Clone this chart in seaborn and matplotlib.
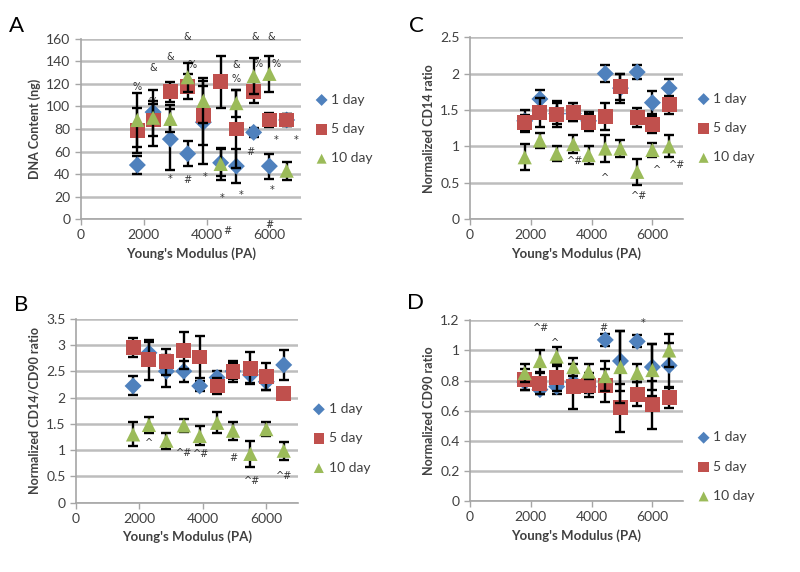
import matplotlib
matplotlib.use('Agg')
import matplotlib.pyplot as plt
import matplotlib.ticker as mticker
import seaborn as sns
import pandas as pd

# Young's modulus of each gel (PA)
modulus = [1800, 2300, 2850, 3400, 3900, 4450, 4950, 5500, 6000, 6550]
days = ['1 day', '5 day', '10 day']

# A: DNA content (ng)
dna_1 = [48, 95, 71, 58, 86, 50, 47, 77, 47, 88]
dna_1_err = [8, 10, 27, 11, 37, 12, 15, 4, 11, 5]
dna_5 = [79, 88, 113, 118, 92, 122, 80, 113, 88, 88]
dna_5_err = [20, 14, 9, 11, 26, 23, 35, 10, 6, 5]
dna_10 = [88, 90, 89, 126, 105, 49, 103, 127, 129, 43]
dna_10_err = [24, 25, 12, 13, 20, 14, 12, 16, 16, 8]
dna_notes = [(1800, 117, '%'), (2300, 104, '%'), (2300, 134, '&'), (2850, 144, '&'),
             (3400, 162, '&'), (3550, 137, '%'), (4950, 137, '&'), (4950, 124, '%'),
             (5550, 162, '&'), (5650, 138, '%'), (6050, 162, '&'), (6200, 138, '%'),
             (2850, 36, '*'), (3400, 35, '#'), (3950, 37, '*'), (4500, 19, '*'),
             (5100, 21, '*'), (5400, 60, '#'), (6100, 26, '*'), (6200, 70, '*'),
             (6850, 70, '*'), (4650, -11, '#'), (6000, -5, '#')]

# C: normalized CD14 ratio
cd14_1 = [1.35, 1.65, 1.45, 1.45, 1.35, 2.0, 1.8, 2.02, 1.6, 1.8]
cd14_1_err = [0.15, 0.12, 0.15, 0.1, 0.12, 0.12, 0.2, 0.1, 0.16, 0.12]
cd14_5 = [1.33, 1.47, 1.44, 1.47, 1.33, 1.41, 1.82, 1.39, 1.3, 1.57]
cd14_5_err = [0.1, 0.2, 0.18, 0.12, 0.12, 0.18, 0.18, 0.13, 0.12, 0.12]
cd14_10 = [0.85, 1.08, 0.9, 1.03, 0.88, 0.97, 0.97, 0.65, 0.95, 1.0]
cd14_10_err = [0.18, 0.1, 0.1, 0.12, 0.12, 0.18, 0.12, 0.18, 0.1, 0.15]
cd14_notes = [(3450, 0.8, '^#'), (4450, 0.57, '^'), (5550, 0.32, '^#'),
              (6150, 0.68, '^'), (6800, 0.75, '^#')]

# B: normalized CD14/CD90 ratio
ratio_1 = [2.22, 2.85, 2.5, 2.5, 2.22, 2.38, 2.5, 2.43, 2.3, 2.62]
ratio_1_err = [0.18, 0.2, 0.3, 0.2, 0.1, 0.12, 0.15, 0.15, 0.15, 0.28]
ratio_5 = [2.95, 2.72, 2.68, 2.9, 2.77, 2.22, 2.5, 2.56, 2.4, 2.08]
ratio_5_err = [0.18, 0.38, 0.25, 0.35, 0.4, 0.15, 0.2, 0.3, 0.25, 0.1]
ratio_10 = [1.3, 1.48, 1.18, 1.47, 1.27, 1.52, 1.37, 0.93, 1.4, 0.99]
ratio_10_err = [0.23, 0.15, 0.15, 0.12, 0.18, 0.2, 0.17, 0.25, 0.14, 0.17]
ratio_notes = [(2300, 1.13, '^'), (3400, 0.95, '^#'), (3950, 0.92, '^#'),
               (4950, 0.85, '#'), (5550, 0.42, '^#'), (6550, 0.5, '^#')]

# D: normalized CD90 ratio
cd90_1 = [0.79, 0.74, 0.76, 0.79, 0.76, 1.07, 0.93, 1.06, 0.89, 0.9]
cd90_1_err = [0.05, 0.03, 0.05, 0.06, 0.04, 0.04, 0.2, 0.04, 0.15, 0.15]
cd90_5 = [0.81, 0.78, 0.82, 0.76, 0.77, 0.77, 0.62, 0.71, 0.64, 0.69]
cd90_5_err = [0.07, 0.07, 0.09, 0.15, 0.08, 0.11, 0.16, 0.08, 0.16, 0.07]
cd90_10 = [0.85, 0.93, 0.96, 0.89, 0.86, 0.83, 0.89, 0.85, 0.87, 1.0]
cd90_10_err = [0.06, 0.07, 0.06, 0.06, 0.05, 0.1, 0.24, 0.06, 0.17, 0.11]
cd90_notes = [(2350, 1.15, '^#'), (2800, 1.05, '^'), (4400, 1.15, '#'), (5700, 1.18, '*')]

colors = {'1 day': '#4F81BD', '5 day': '#C0504D', '10 day': '#9BBB59'}
markers = {'1 day': 'D', '5 day': 's', '10 day': '^'}
sizes = {'1 day': 75, '5 day': 115, '10 day': 105}

sns.set_theme(style='white')
plt.rcParams['font.family'] = ['Lato', 'DejaVu Sans']

fig = plt.figure(figsize=(8, 5.72), dpi=100, facecolor='white')


def panel(rect, series, errs, notes, ymax, ystep, ylabel, letter, letter_xy, leg_y):
    ax = fig.add_axes(rect)
    df = pd.DataFrame({
        'modulus': modulus * 3,
        'value': series[0] + series[1] + series[2],
        'err': errs[0] + errs[1] + errs[2],
        'day': [d for d in days for _ in modulus],
    })
    for i, d in enumerate(days):
        sub = df[df['day'] == d]
        ax.errorbar(sub['modulus'], sub['value'], yerr=sub['err'], fmt='none',
                    ecolor='black', elinewidth=1.7, capsize=3.5, capthick=1.7,
                    zorder=3 + 2 * i)
        sns.scatterplot(data=sub, x='modulus', y='value', marker=markers[d],
                        color=colors[d], s=sizes[d], edgecolor='none',
                        label=d, ax=ax, zorder=4 + 2 * i)
    for x, y, t in notes:
        ax.text(x, y, t, fontsize=7, color='#333333', ha='center', va='center',
                family='DejaVu Sans', clip_on=False)

    ax.set_xlim(0, 7000)
    ax.set_ylim(0, ymax)
    ax.set_xticks([0, 2000, 4000, 6000])
    ax.xaxis.set_minor_locator(mticker.MultipleLocator(1000))
    ax.yaxis.set_major_locator(mticker.MultipleLocator(ystep))
    ax.yaxis.set_major_formatter(mticker.FuncFormatter(lambda v, p: f'{v:g}'))
    ax.grid(axis='y', color='#BDBDBD', linewidth=1.8)
    ax.grid(axis='x', visible=False)
    ax.set_axisbelow(True)
    for s in ['top', 'right']:
        ax.spines[s].set_visible(False)
    for s in ['left', 'bottom']:
        ax.spines[s].set_color('#A6A6A6')
        ax.spines[s].set_linewidth(1.2)
    ax.tick_params(axis='both', which='both', direction='out', length=4,
                   color='#A6A6A6', width=1.0, labelsize=10, labelcolor='#404040',
                   left=True, bottom=True)
    ax.tick_params(axis='x', which='minor', length=0)
    ax.set_xlabel("Young's Modulus (PA)", fontsize=9.5, fontweight='bold', color='#404040')
    ax.set_ylabel(ylabel, fontsize=9, fontweight='bold', color='#404040', labelpad=4)
    ax.legend(loc='center left', bbox_to_anchor=(1.0, leg_y), frameon=False,
              fontsize=10, labelspacing=1.25, handletextpad=0.1, handlelength=1.2,
              markerscale=0.7, labelcolor='#404040')
    fig.text(letter_xy[0], letter_xy[1], letter, fontsize=16, color='black',
             ha='left', va='center')
    return ax


panel([0.101, 0.617, 0.275, 0.315], [dna_1, dna_5, dna_10],
      [dna_1_err, dna_5_err, dna_10_err], dna_notes, 160, 20,
      'DNA Content (ng)', 'A', (0.011, 0.955), 0.5)
panel([0.5875, 0.617, 0.266, 0.318], [cd14_1, cd14_5, cd14_10],
      [cd14_1_err, cd14_5_err, cd14_10_err], cd14_notes, 2.5, 0.5,
      'Normalized CD14 ratio', 'C', (0.511, 0.955), 0.5)
panel([0.095, 0.121, 0.2775, 0.322], [ratio_1, ratio_5, ratio_10],
      [ratio_1_err, ratio_5_err, ratio_10_err], ratio_notes, 3.5, 0.5,
      'Normalized CD14/CD90 ratio', 'B', (0.018, 0.467), 0.35)
panel([0.5875, 0.124, 0.266, 0.316], [cd90_1, cd90_5, cd90_10],
      [cd90_1_err, cd90_5_err, cd90_10_err], cd90_notes, 1.2, 0.2,
      'Normalized CD90 ratio', 'D', (0.509, 0.47), 0.19)

fig.savefig('out.png', dpi=100, facecolor='white')
